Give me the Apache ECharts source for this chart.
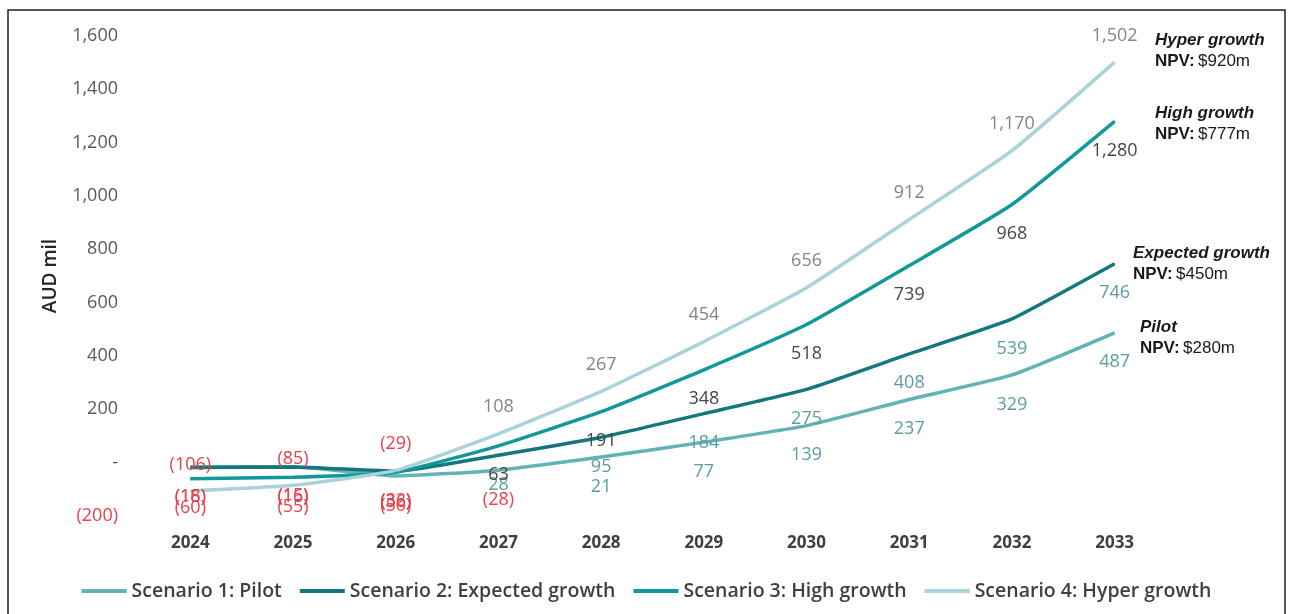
<!DOCTYPE html>
<html>
<head>
<meta charset="utf-8">
<script src="https://cdn.jsdelivr.net/npm/echarts@6/dist/echarts.min.js"></script>
<style>
  html, body { margin: 0; padding: 0; background: #ffffff; }
  #chart { width: 1293px; height: 614px; }
</style>
</head>
<body>
<div id="chart"></div>
<script>
// Cash flow by scenario, AUD million
const years = ['2024', '2025', '2026', '2027', '2028', '2029', '2030', '2031', '2032', '2033'];
const pilot    = [-16, -15, -50, -28, 21, 77, 139, 237, 329, 487];
const expected = [-18, -16, -32, 28, 95, 184, 275, 408, 539, 746];
const high     = [-60, -55, -36, 63, 191, 348, 518, 739, 968, 1280];
const hyper    = [-106, -85, -29, 108, 267, 454, 656, 912, 1170, 1502];

const seriesNames = ['Scenario 1: Pilot', 'Scenario 2: Expected growth', 'Scenario 3: High growth', 'Scenario 4: Hyper growth'];
const lineColors = ['#62b3b5', '#13787d', '#11989b', '#a9d3d8'];
const npvNotes = [
  { title: 'Hyper growth', npv: '$920m' },
  { title: 'High growth', npv: '$777m' },
  { title: 'Expected growth', npv: '$450m' },
  { title: 'Pilot', npv: '$280m' }
];

const RED = '#e8404c';
const fmt = v => v < 0 ? '{neg|(' + Math.abs(v) + ')}' : v.toLocaleString('en-US');

function makeSeries(name, data, lineColor, labelColor, pos, dist) {
  return {
    name: name,
    type: 'line',
    data: data,
    smooth: 0.15,
    symbol: 'circle',
    symbolSize: 1,
    showSymbol: true,
    itemStyle: { color: lineColor },
    lineStyle: { color: lineColor, width: 3.5 },
    emphasis: { disabled: true },
    label: {
      show: true,
      position: pos,
      distance: dist,
      fontFamily: 'Open Sans',
      fontSize: 18,
      color: labelColor,
      formatter: p => fmt(p.value),
      rich: { neg: { color: RED, fontFamily: 'Open Sans', fontSize: 18 } }
    }
  };
}

const chart = echarts.init(document.getElementById('chart'));

const noteText = (n) => '{t|' + n.title + '}\n{b|NPV:} {r|' + n.npv + '}';
const noteRich = {
  t: { fontFamily: 'Liberation Sans', fontSize: 17, fontWeight: 'bold', fontStyle: 'italic', fill: '#1a1a1a', lineHeight: 21 },
  b: { fontFamily: 'Liberation Sans', fontSize: 17, fontWeight: 'bold', fill: '#1a1a1a', lineHeight: 21 },
  r: { fontFamily: 'Liberation Sans', fontSize: 17, fill: '#1a1a1a', lineHeight: 21 }
};
const notePos = [[1155, 30], [1155, 103], [1133, 243], [1140, 317]];

chart.setOption({
  animation: false,
  backgroundColor: '#ffffff',
  grid: { left: 139, right: 127, top: 36, bottom: 98, containLabel: false },
  legend: {
    data: seriesNames.map((n, i) => ({ name: n, itemStyle: { color: lineColors[i], opacity: 1 } })),
    left: 'center',
    top: 576,
    icon: 'rect',
    itemWidth: 45,
    itemHeight: 4,
    itemGap: 18,
    textStyle: { fontFamily: 'Open Sans', fontSize: 19.5, fontWeight: 600, color: '#404040', padding: [0, 0, 0, 0] }
  },
  xAxis: {
    type: 'category',
    data: years,
    boundaryGap: true,
    axisLine: { show: false },
    axisTick: { show: false },
    axisLabel: { margin: 19, fontFamily: 'Open Sans', fontSize: 17, fontWeight: 'bold', color: '#404040' }
  },
  yAxis: {
    type: 'value',
    min: -200,
    max: 1600,
    interval: 200,
    name: 'AUD mil',
    nameLocation: 'middle',
    nameGap: 79,
    nameTextStyle: { fontFamily: 'Open Sans', fontSize: 19, fontWeight: 600, color: '#262626' },
    splitLine: { show: false },
    axisLine: { show: false },
    axisTick: { show: false },
    axisLabel: {
      margin: 21,
      fontFamily: 'Open Sans',
      fontSize: 18,
      color: '#595959',
      formatter: v => v === 0 ? '-' : fmt(v),
      rich: { neg: { color: RED, fontFamily: 'Open Sans', fontSize: 18 } }
    }
  },
  series: [
    makeSeries(seriesNames[0], pilot, lineColors[0], '#5a9ea0', 'bottom', 20),
    makeSeries(seriesNames[1], expected, lineColors[1], '#5a9ea0', 'bottom', 20),
    makeSeries(seriesNames[2], high, lineColors[2], '#474747', 'bottom', 20),
    makeSeries(seriesNames[3], hyper, lineColors[3], '#858585', 'top', 17)
  ],
  graphic: [
    {
      type: 'rect',
      shape: { x: 8, y: 10, width: 1277, height: 620 },
      style: { fill: null, stroke: '#222222', lineWidth: 1.5 },
      silent: true
    }
  ].concat(npvNotes.map((n, i) => ({
    type: 'text',
    x: notePos[i][0],
    y: notePos[i][1],
    silent: true,
    style: { text: noteText(n), rich: noteRich }
  })))
});
</script>
</body>
</html>
